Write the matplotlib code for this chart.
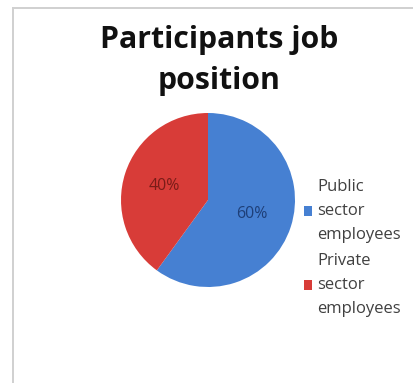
import matplotlib
matplotlib.use("Agg")
import matplotlib.pyplot as plt
from matplotlib.patches import Patch
from matplotlib.lines import Line2D

# Data
categories = ["Public\nsector\nemployees", "Private\nsector\nemployees"]
shares = [60, 40]
colors = ["#4680D2", "#D83C38"]
label_colors = ["#1E3F78", "#7A1C18"]
title = "Participants job\nposition"

W, H = 414, 383
fig = plt.figure(figsize=(W / 100, H / 100), dpi=100)
fig.patch.set_facecolor("white")

# Chart area border (left and top edges visible)
fig.add_artist(Line2D([13 / W, 13 / W], [0, 1 - 8 / H], color="#D0D0D0", lw=1.4))
fig.add_artist(Line2D([13 / W, 1], [1 - 8 / H, 1 - 8 / H], color="#D0D0D0", lw=1.4))

# Pie
cx, cy, r = 208, 200, 87
ax = fig.add_axes([(cx - r) / W, (H - cy - r) / H, 2 * r / W, 2 * r / H])
wedges, texts, autotexts = ax.pie(
    shares, colors=colors, startangle=90, counterclock=False,
    autopct="%d%%", pctdistance=0.53, radius=1.0,
    wedgeprops=dict(linewidth=0),
    textprops=dict(family="Open Sans", fontsize=11.5),
)
for t, c in zip(autotexts, label_colors):
    t.set_color(c)
ax.set_xlim(-1, 1)
ax.set_ylim(-1, 1)
ax.set_aspect("equal")
ax.axis("off")

# Title
fig.text(219 / W, 1 - 60.5 / H, title, ha="center", va="center",
         family="Open Sans", fontweight="bold", fontsize=21.8, color="#111111",
         linespacing=1.48)

# Legend
handles = [Patch(facecolor=c, edgecolor="none") for c in colors]
leg = fig.legend(handles, categories, loc="center left",
                 bbox_to_anchor=(304 / W, 1 - 248 / H), frameon=False,
                 prop=dict(family="Open Sans", size=12),
                 handlelength=0.5, handleheight=0.5, handletextpad=0.3,
                 labelspacing=0.55, borderpad=0, borderaxespad=0)
for t in leg.get_texts():
    t.set_color("#404040")
    t.set_linespacing(1.69)

fig.savefig("out.png", dpi=100)
